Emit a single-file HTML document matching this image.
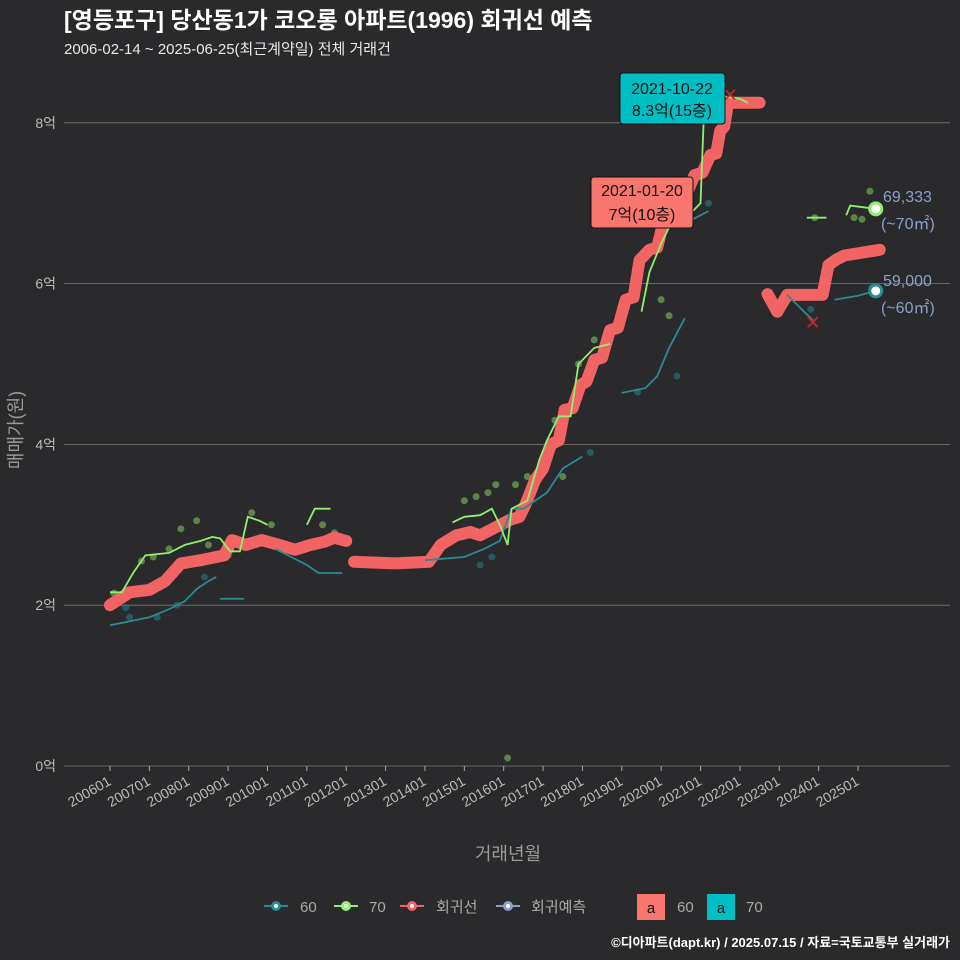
<!DOCTYPE html>
<html><head><meta charset="utf-8">
<style>
html,body{margin:0;padding:0;background:#2a292b;}
body{width:960px;height:960px;overflow:hidden;font-family:"Liberation Sans","Noto Sans CJK KR",sans-serif;}
</style></head>
<body>
<svg id="chart" width="960" height="960" xmlns="http://www.w3.org/2000/svg" style="position:absolute;left:0;top:0">
<rect width="960" height="960" fill="#2a292b"/>
<text x="64" y="28" fill="#ffffff" font-size="23" font-weight="bold">[영등포구] 당산동1가 코오롱 아파트(1996) 회귀선 예측</text>
<text x="64" y="54" fill="#e8e8e8" font-size="15">2006-02-14 ~ 2025-06-25(최근계약일) 전체 거래건</text>
<g id="grid"></g>
<g id="marks"></g>
<g id="labels"></g>
<text x="508" y="860" fill="#9a9a9a" font-size="18" text-anchor="middle">거래년월</text>
<text transform="translate(22,430) rotate(-90)" fill="#9a9a9a" font-size="18" text-anchor="middle">매매가(원)</text>
<g font-size="15" fill="#aaaaaa">
 <g><line x1="264" y1="906" x2="288" y2="906" stroke="#2a8a95" stroke-width="2"/><circle cx="276" cy="906" r="5" fill="#2a8a95"/><circle cx="276" cy="906" r="2" fill="#fff"/><text x="300" y="912">60</text></g>
 <g><line x1="334" y1="906" x2="358" y2="906" stroke="#90ee70" stroke-width="2"/><circle cx="346" cy="906" r="5" fill="#90ee70"/><circle cx="346" cy="906" r="2" fill="#fff"/><text x="369" y="912">70</text></g>
 <g><line x1="400" y1="906" x2="424" y2="906" stroke="#f26464" stroke-width="2"/><circle cx="412" cy="906" r="5" fill="#f26464"/><circle cx="412" cy="906" r="2" fill="#fff"/><text x="436" y="912">회귀선</text></g>
 <g><line x1="496" y1="906" x2="520" y2="906" stroke="#8aa0c8" stroke-width="2"/><circle cx="508" cy="906" r="5" fill="#8aa0c8"/><circle cx="508" cy="906" r="2" fill="#fff"/><text x="531" y="912">회귀예측</text></g>
 <g><rect x="637" y="894" width="28" height="26" fill="#f8766d"/><text x="651" y="913" fill="#111" text-anchor="middle">a</text><text x="677" y="912">60</text></g>
 <g><rect x="707" y="894" width="28" height="26" fill="#00bfc4"/><text x="721" y="913" fill="#111" text-anchor="middle">a</text><text x="746" y="912">70</text></g>
</g>
<text x="950" y="947" fill="#ffffff" font-size="13" font-weight="bold" text-anchor="end">©디아파트(dapt.kr) / 2025.07.15 / 자료=국토교통부 실거래가</text>
</svg>
<script>
const yTicks=[0,2,4,6,8];
const xTickLabels=["200601","200701","200801","200901","201001","201101","201201","201301","201401","201501","201601","201701","201801","201901","202001","202101","202201","202301","202401","202501"];
const regT=[2006.0,2006.5,2007.0,2007.4,2007.8,2008.3,2008.9,2009.1,2009.45,2009.85,2010.3,2010.7,2011.1,2011.45,2011.7,2012.0,null,2012.2,2013.25,2014.1,2014.4,2014.8,2015.15,2015.4,2015.8,2016.15,2016.4,2016.55,2016.8,2017.0,2017.2,2017.4,2017.55,2017.75,2017.95,2018.1,2018.3,2018.5,2018.7,2018.9,2019.1,2019.3,2019.45,2019.7,2019.9,2020.1,2020.3,2020.5,2020.7,2020.85,2021.05,2021.25,2021.4,2021.5,2021.6,2021.7,2022.5,null,2022.7,2022.95,2023.2,2024.1,2024.25,2024.45,2024.65,2025.55];
const regV=[2.0,2.16,2.19,2.3,2.52,2.56,2.62,2.81,2.75,2.81,2.75,2.69,2.75,2.79,2.84,2.8,null,2.54,2.52,2.54,2.75,2.87,2.91,2.87,2.97,3.06,3.1,3.25,3.56,3.7,4.0,4.05,4.43,4.45,4.74,4.78,5.05,5.08,5.42,5.45,5.8,5.83,6.29,6.42,6.45,6.85,6.87,7.16,7.18,7.35,7.38,7.6,7.62,7.9,7.95,8.25,8.25,null,5.87,5.65,5.86,5.86,6.23,6.3,6.35,6.42];
const g70T=[2006.0,2006.3,2006.6,2006.9,2007.5,2007.9,2008.3,2008.6,2008.8,2009.05,2009.3,2009.5,2009.8,2010.0,null,2011.0,2011.2,2011.6,null,2014.7,2015.0,2015.4,2015.7,2015.9,2016.1,2016.2,2016.6,2016.9,2017.1,2017.4,2017.7,2017.9,2018.3,2018.7,null,2019.5,2019.7,2020.0,2020.2,2020.5,2020.8,2021.0,2021.1,2021.3,2022.0,2022.2,null,2023.7,2024.2,null,2024.7,2024.8,2025.45];
const g70V=[2.16,2.16,2.41,2.62,2.65,2.75,2.8,2.85,2.83,2.67,2.67,3.1,3.05,3.0,null,3.0,3.2,3.2,null,3.03,3.1,3.12,3.2,3.0,2.75,3.2,3.3,3.8,4.05,4.35,4.35,5.0,5.2,5.25,null,5.65,6.14,6.5,6.7,6.85,6.9,7.0,8.3,8.35,8.3,8.25,null,6.82,6.82,null,6.85,6.97,6.93];
const g60T=[2006.0,2006.5,2007.0,2007.5,2007.9,2008.2,2008.5,2008.7,null,2008.8,2009.4,null,2010.2,2010.6,2011.0,2011.3,2011.9,null,2014.0,2015.0,2015.5,2015.9,2016.2,2016.5,2017.1,2017.5,2018.0,null,2019.0,2019.6,2019.9,2020.2,2020.6,null,2020.8,2021.2,null,2023.2,2023.9,null,2024.4,2025.0,2025.45];
const g60V=[1.75,1.8,1.85,1.95,2.05,2.2,2.3,2.35,null,2.08,2.08,null,2.7,2.6,2.5,2.4,2.4,null,2.56,2.6,2.7,2.8,3.2,3.2,3.4,3.7,3.85,null,4.64,4.7,4.85,5.2,5.57,null,6.8,6.9,null,5.86,5.52,null,5.8,5.85,5.91];
const ptT=[2006.1,2006.4,2006.8,2007.1,2007.5,2007.8,2008.2,2008.5,2008.7,2009.0,2009.6,2010.1,2011.4,2011.7,2006.5,2007.2,2007.7,2008.4,2015.0,2015.3,2015.6,2015.8,2016.3,2016.6,2016.9,2017.3,2017.9,2018.3,2019.6,2020.0,2020.2,2016.1,2015.4,2015.7,2017.5,2018.2,2019.4,2020.4,2021.2,2023.9,2024.9,2025.1,2025.3,2023.8,2025.35];
const ptV=[2.15,1.97,2.55,2.6,2.7,2.95,3.05,2.75,2.62,2.62,3.15,3.0,3.0,2.9,1.85,1.85,2.0,2.35,3.3,3.35,3.4,3.5,3.5,3.6,3.6,4.3,5.0,5.3,6.4,5.8,5.6,0.1,2.5,2.6,3.6,3.9,4.65,4.85,7.0,6.82,6.82,6.8,7.15,5.68,5.95];
const ptG=[70,60,70,70,70,70,70,70,70,70,70,70,70,70,60,60,60,60,70,70,70,70,70,70,70,70,70,70,70,70,70,70,60,60,70,60,60,60,60,70,70,70,70,60,60];

const NS="http://www.w3.org/2000/svg";
const X=t=>110+(t-2006)*39.37;
const Y=v=>766-v*80.4;
function mk(tag,attrs,parent){const e=document.createElementNS(NS,tag);for(const k in attrs)e.setAttribute(k,attrs[k]);parent.appendChild(e);return e;}
const grid=document.getElementById('grid'),marks=document.getElementById('marks');

yTicks.forEach(v=>{
  const l=mk('line',{x1:64,x2:950,y1:Y(v),y2:Y(v),stroke:'#7a7a7a','stroke-width':0.8},grid);
  
  
  const t=mk('text',{x:56,y:Y(v)+5,fill:'#bbbbbb','font-size':14,'text-anchor':'end'},grid);
  t.textContent=v+'억';
  
  
});
xTickLabels.forEach((s,i)=>{
  const x=X(2006+i);
  mk('line',{x1:x,x2:x,y1:766,y2:771,stroke:'#aaa'},grid);
  const t=mk('text',{x:x+2,y:784,fill:'#bbbbbb','font-size':14,'text-anchor':'end',transform:`rotate(-30 ${x+2} 784)`},grid);
  t.textContent=s;
  
  
});
function path(T,V){let d='',pen=false;T.forEach((t,i)=>{if(t===null){pen=false;return;}d+=(pen?'L':'M')+X(t).toFixed(1)+','+Y(V[i]).toFixed(1);pen=true;});return d;}

ptT.forEach((t,i)=>{
  const c=mk('circle',{cx:X(t),cy:Y(ptV[i]),r:3.5,fill:ptG[i]===70?'#7fbf5f':'#2a7a80','fill-opacity':0.6},marks);
  
  
});
const reg=mk('path',{d:path(regT,regV),fill:'none',stroke:'#f26464','stroke-width':12,'stroke-linecap':'round','stroke-linejoin':'round'},marks);


const l60=mk('path',{d:path(g60T,g60V),fill:'none',stroke:'#2a8a95','stroke-width':1.8},marks);


const l70=mk('path',{d:path(g70T,g70V),fill:'none',stroke:'#90ee70','stroke-width':1.8},marks);


const e70=mk('circle',{cx:X(g70T[g70T.length-1]),cy:Y(g70V[g70V.length-1]),r:6,fill:'#fff',stroke:'#90ee70','stroke-width':3},marks);


const e60=mk('circle',{cx:X(g60T[g60T.length-1]),cy:Y(g60V[g60V.length-1]),r:6,fill:'#fff',stroke:'#2a8a95','stroke-width':3},marks);


[[2023.85,5.52],[2021.75,8.35]].forEach(p=>{
  const g=mk('path',{d:`M${X(p[0])-5},${Y(p[1])-5}L${X(p[0])+5},${Y(p[1])+5}M${X(p[0])+5},${Y(p[1])-5}L${X(p[0])-5},${Y(p[1])+5}`,stroke:'#cc2222','stroke-width':1.8},marks);
  
  
});
</script>
<svg style="position:absolute;left:0;top:0" width="960" height="960">
 <g>
  <rect x="620" y="73" width="105" height="51" rx="3" fill="#00bfc4" stroke="#111"/>
  <text x="672" y="94" font-size="16" fill="#111" text-anchor="middle" font-family="Liberation Sans, Noto Sans CJK KR, sans-serif">2021-10-22</text>
  <text x="672" y="116" font-size="16" fill="#111" text-anchor="middle" font-family="Liberation Sans, Noto Sans CJK KR, sans-serif">8.3억(15층)</text>
 </g>
 <g>
  <rect x="591" y="177" width="102" height="51" rx="3" fill="#f8766d" stroke="#111"/>
  <text x="642" y="196" font-size="16" fill="#111" text-anchor="middle" font-family="Liberation Sans, Noto Sans CJK KR, sans-serif">2021-01-20</text>
  <text x="642" y="220" font-size="16" fill="#111" text-anchor="middle" font-family="Liberation Sans, Noto Sans CJK KR, sans-serif">7억(10층)</text>
 </g>
 <g font-size="16" fill="#8aa0c8" font-family="Liberation Sans, Noto Sans CJK KR, sans-serif">
  <text x="883" y="202">69,333</text>
  <text x="881" y="229">(~70㎡)</text>
  <text x="883" y="286">59,000</text>
  <text x="881" y="313">(~60㎡)</text>
 </g>
</svg>
</body></html>
